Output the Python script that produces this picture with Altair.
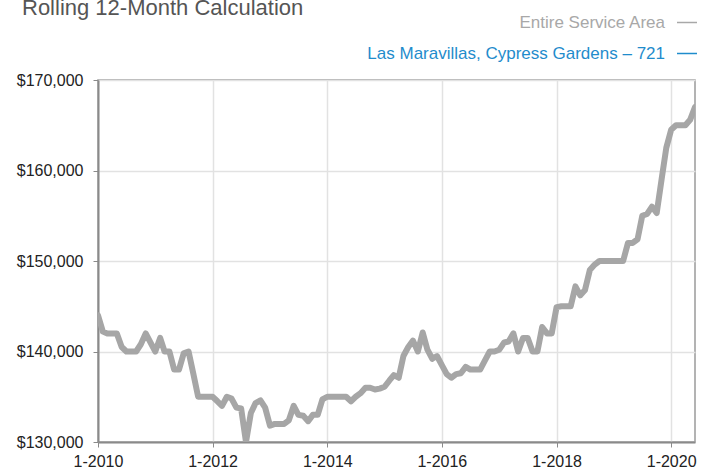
import altair as alt
import pandas as pd

months = [d.strftime("%Y-%m-%d") for d in pd.date_range("2010-01-01", periods=126, freq="MS")]
service_area = [
    144000, 142200, 142000, 142000, 142000, 140500, 140000, 140000, 140000, 140800, 142000, 141000,
    140000, 141500, 140000, 140000, 138000, 138000, 139800, 140000, 137500, 135000, 135000, 135000,
    135000, 134500, 134000, 135000, 134800, 133800, 133700, 130000, 133200, 134300, 134600, 133800,
    131800, 132000, 132000, 132000, 132400, 134000, 133000, 132900, 132300, 133000, 133000, 134700,
    135000, 135000, 135000, 135000, 135000, 134500, 135000, 135400, 136000, 136000, 135800, 135900,
    136100, 136800, 137400, 137100, 139500, 140500, 141200, 140000, 142100, 140200, 139200, 139500,
    138500, 137500, 137100, 137500, 137600, 138300, 138000, 138000, 138000, 139000, 140000, 140000,
    140200, 141000, 141100, 142000, 140000, 141500, 141500, 140000, 140000, 142700, 142000, 142000,
    144900, 145000, 145000, 145000, 147200, 146200, 146800, 149000, 149600, 150000, 150000, 150000,
    150000, 150000, 150000, 152000, 152000, 152400, 155000, 155200, 156000, 155300, 159000, 162500,
    164500, 165000, 165000, 165000, 165600, 167000,
]
tick_years = [2010, 2012, 2014, 2016, 2018, 2020]
y_ticks = [130000, 140000, 150000, 160000, 170000]
title_text = "Rolling 12-Month Calculation"
legend_labels = ["Entire Service Area", "Las Maravillas, Cypress Gardens – 721"]
legend_colors = ["#a8a8a8", "#1f8ccc"]

df = pd.DataFrame({"date": months, "value": service_area})

FONT = "Liberation Sans"

line = alt.Chart(df).mark_line(
    color="#a6a6a6", strokeWidth=6, strokeJoin="round", strokeCap="round", clip=True
).encode(
    x=alt.X(
        "date:T",
        scale=alt.Scale(
            type="utc",
            domain=[alt.DateTime(year=2010, month=1, date=1, utc=True),
                    alt.DateTime(year=2020, month=6, date=1, utc=True)],
        ),
        axis=alt.Axis(
            values=[alt.DateTime(year=y, month=1, date=1, utc=True) for y in tick_years],
            labelExpr="'1-' + utcFormat(datum.value, '%Y')",
            title=None,
            grid=True,
            labelFlush=False,
            labelOverlap=False,
            labelBound=False,
        ),
    ),
    y=alt.Y(
        "value:Q",
        scale=alt.Scale(domain=[130000, 170000], nice=False, zero=False),
        axis=alt.Axis(values=y_ticks, format="$,.0f", title=None, grid=True),
    ),
)

title = alt.Chart(pd.DataFrame({"t": [title_text]})).mark_text(
    align="left", baseline="alphabetic", fontSize=22, font=FONT, color="#555555"
).encode(text="t:N", x=alt.value(-76), y=alt.value(-65))

leg1 = alt.Chart(pd.DataFrame({"t": [legend_labels[0]]})).mark_text(
    align="right", baseline="alphabetic", fontSize=17, font=FONT, color=legend_colors[0]
).encode(text="t:N", x=alt.value(567), y=alt.value(-52))
leg2 = alt.Chart(pd.DataFrame({"t": [legend_labels[1]]})).mark_text(
    align="right", baseline="alphabetic", fontSize=17, font=FONT, color=legend_colors[1]
).encode(text="t:N", x=alt.value(567), y=alt.value(-21))

dash1 = alt.Chart(pd.DataFrame({"c": [0]})).mark_rule(
    color=legend_colors[0], strokeWidth=1.5
).encode(x=alt.value(579), x2=alt.value(599), y=alt.value(-57.5))
dash2 = alt.Chart(pd.DataFrame({"c": [0]})).mark_rule(
    color=legend_colors[1], strokeWidth=1.5
).encode(x=alt.value(579), x2=alt.value(599), y=alt.value(-26.5))

chart = alt.layer(line, title, leg1, leg2, dash1, dash2).properties(
    width=597,
    height=362,
    autosize=alt.AutoSizeParams(type="none"),
    padding={"left": 98, "top": 80, "right": 16, "bottom": 26},
    background="white",
).configure_view(
    stroke="#9a9a9a", strokeWidth=1.5
).configure_axis(
    labelFont=FONT,
    labelFontSize=16,
    labelColor="#222222",
    domainColor="#8a8a8a",
    domainWidth=2,
    tickColor="#8a8a8a",
    tickSize=5,
    tickWidth=1,
    gridColor="#e2e2e2",
    gridWidth=1.5,
).configure_axisY(
    labelPadding=10,
).configure_axisX(
    labelPadding=6,
)

chart.save("out.html", embed_options={"renderer": "svg", "actions": False})
